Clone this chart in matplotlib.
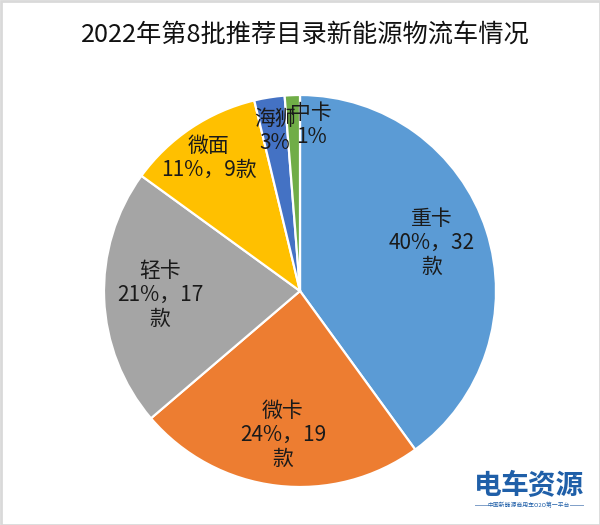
import matplotlib
matplotlib.use("Agg")
import matplotlib.pyplot as plt
from matplotlib.patches import Rectangle

plt.rcParams['font.family'] = ['Noto Sans CJK SC', 'DejaVu Sans']

categories = ['重卡', '微卡', '轻卡', '微面', '海狮', '中卡']
counts = [32, 19, 17, 9, 2, 1]
label_texts = ['重卡\n40%，32\n款', '微卡\n24%，19\n款', '轻卡\n21%，17\n款',
               '微面\n11%，9款', '海狮\n3%', '中卡\n1%']
colors = ['#5B9BD5', '#ED7D31', '#A5A5A5', '#FFC000', '#4472C4', '#70AD47']
title = '2022年第8批推荐目录新能源物流车情况'

H = 525
label_pos = [(432, 243), (283, 435), (160, 295), (209, 158), (275, 131), (311, 125)]

fig = plt.figure(figsize=(6, 5.25), dpi=100)
ax = fig.add_axes([0, 0, 1, 1])
ax.pie(counts, colors=colors, startangle=90, counterclock=False,
       center=(300, H - 291), radius=196,
       wedgeprops=dict(edgecolor='white', linewidth=1.6), frame=True)
ax.set_xlim(0, 600)
ax.set_ylim(0, H)
ax.set_aspect('equal')
ax.axis('off')

for txt, (x, y) in zip(label_texts, label_pos):
    ax.text(x, H - y, txt, ha='center', va='center', fontsize=15, color='#1a1a1a',
            linespacing=1.1)

ax.text(305, H - 36, title, ha='center', va='center', fontsize=18.2, color='#111111')

# image frame
ax.add_patch(Rectangle((0.5, 0.5), 599, 524, fill=False, edgecolor='#d9d9d9', linewidth=2))

# watermark
ax.text(474, H - 486, '电', ha='left', va='center', fontsize=20, color='#1f5fa8', fontweight='bold')
ax.text(501, H - 486, '车资源', ha='left', va='center', fontsize=20, color='#1f5fa8', fontweight='bold')
ax.text(529, H - 505, '中国新能源商用车O2O第一平台', ha='center', va='center', fontsize=4.2, color='#1f5fa8')
ax.plot([475, 488], [H - 505, H - 505], color='#7f9fc8', lw=0.7)
ax.plot([570, 583], [H - 505, H - 505], color='#7f9fc8', lw=0.7)

fig.savefig('out.png', dpi=100)
